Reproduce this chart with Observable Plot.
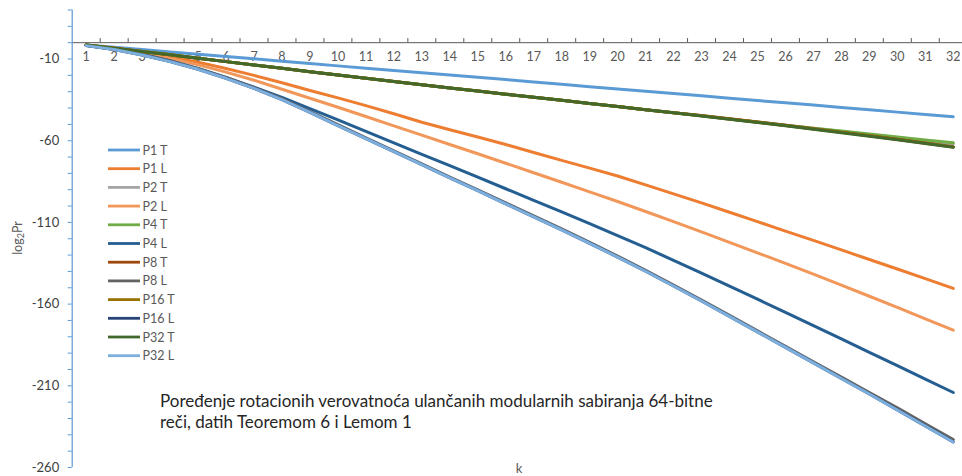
<!DOCTYPE html>
<html>
<head>
<meta charset="utf-8">
<script src="https://cdn.jsdelivr.net/npm/d3@7"></script>
<script src="https://cdn.jsdelivr.net/npm/@observablehq/plot@0.6"></script>
<style>
  html, body { margin: 0; padding: 0; background: #fff; }
  #chart { width: 962px; height: 476px; overflow: hidden; }
</style>
</head>
<body>
<div id="chart"></div>
<script>
// ---- data ----
const k = [1,2,3,4,5,6,7,8,9,10,11,12,13,14,15,16,17,18,19,20,21,22,23,24,25,26,27,28,29,30,31,32];

const seriesNames = ["P1 T","P1 L","P2 T","P2 L","P4 T","P4 L","P8 T","P8 L","P16 T","P16 L","P32 T","P32 L"];

const p1T  = [-1.4,-2.8,-4.2,-5.7,-7.1,-8.5,-9.9,-11.3,-12.7,-14.2,-15.6,-17.0,-18.4,-19.8,-21.2,-22.6,-24.1,-25.5,-26.9,-28.3,-29.7,-31.1,-32.5,-34.0,-35.4,-36.8,-38.2,-39.6,-41.0,-42.5,-43.9,-45.3];
const p1L  = [-1.5,-3.3,-5.5,-8.4,-12.0,-15.8,-20.0,-24.5,-29.3,-33.8,-38.5,-43.5,-48.7,-53.3,-57.7,-62.3,-67.2,-72.0,-76.8,-81.6,-87.0,-92.5,-98.0,-103.8,-109.5,-115.3,-121.0,-126.8,-132.7,-138.5,-144.4,-150.4];
const p2T  = [-1.4,-3.4,-5.4,-7.4,-9.5,-11.6,-13.6,-15.7,-17.8,-19.8,-21.8,-23.8,-25.8,-27.7,-29.6,-31.5,-33.4,-35.3,-37.2,-39.1,-41.0,-42.9,-44.8,-46.7,-48.6,-50.5,-52.4,-54.3,-56.2,-58.1,-60.0,-61.9];
const p2L  = [-1.5,-3.5,-6.2,-9.6,-13.6,-18.0,-23.0,-28.5,-34.0,-39.5,-45.2,-50.9,-56.6,-62.3,-68.0,-73.8,-79.6,-85.4,-91.3,-97.2,-103.3,-109.5,-115.8,-122.2,-128.6,-135.1,-141.7,-148.4,-155.2,-162.0,-169.0,-175.9];
const p4T  = [-1.4,-3.4,-5.4,-7.4,-9.5,-11.6,-13.6,-15.7,-17.8,-19.8,-21.8,-23.8,-25.8,-27.7,-29.6,-31.5,-33.4,-35.3,-37.2,-39.1,-41.0,-42.9,-44.8,-46.7,-48.6,-50.5,-52.3,-54.1,-55.9,-57.7,-59.5,-61.3];
const p4L  = [-1.6,-3.8,-7.0,-11.0,-15.7,-21.2,-27.2,-33.5,-40.3,-47.3,-54.3,-61.3,-68.3,-75.3,-82.3,-89.4,-96.5,-103.6,-110.8,-118.1,-125.5,-133.2,-141.0,-149.0,-157.0,-165.0,-173.2,-181.3,-189.5,-197.7,-205.9,-214.1];
const p8T  = [-1.4,-3.4,-5.4,-7.4,-9.5,-11.6,-13.6,-15.7,-17.8,-19.8,-21.8,-23.8,-25.8,-27.7,-29.6,-31.5,-33.4,-35.3,-37.2,-39.1,-41.0,-42.9,-44.6,-46.6,-48.6,-50.6,-52.7,-54.8,-56.9,-59.1,-61.4,-63.7];
const p8L  = [-1.7,-4.0,-7.2,-11.2,-15.9,-21.3,-27.5,-34.3,-42.2,-50.2,-58.2,-66.2,-74.2,-82.2,-90.1,-98.1,-106.0,-114.0,-122.2,-130.6,-139.3,-148.3,-157.5,-166.9,-176.4,-185.8,-195.3,-204.7,-214.1,-223.5,-233.2,-242.9];
const p16T = [-1.4,-3.4,-5.4,-7.4,-9.5,-11.6,-13.6,-15.7,-17.8,-19.8,-21.8,-23.8,-25.8,-27.7,-29.6,-31.5,-33.4,-35.3,-37.2,-39.1,-41.0,-42.9,-44.7,-46.7,-48.7,-50.7,-52.8,-54.9,-57.0,-59.2,-61.5,-63.8];
const p16L = [-1.8,-4.2,-7.5,-11.6,-16.3,-21.8,-28.0,-34.8,-42.7,-50.7,-58.7,-66.7,-74.7,-82.7,-90.6,-98.6,-106.6,-114.6,-122.8,-131.2,-139.9,-148.9,-158.1,-167.5,-177.0,-186.5,-196.0,-205.5,-215.0,-224.7,-234.5,-244.3];
const p32T = [-1.4,-3.4,-5.4,-7.4,-9.5,-11.6,-13.6,-15.7,-17.8,-19.8,-21.8,-23.8,-25.8,-27.7,-29.6,-31.5,-33.4,-35.3,-37.2,-39.1,-41.0,-42.9,-44.9,-46.9,-48.9,-50.9,-53.0,-55.1,-57.2,-59.4,-61.7,-64.0];
const p32L = [-1.8,-4.2,-7.5,-11.6,-16.3,-21.8,-28.0,-34.8,-42.7,-50.7,-58.7,-66.7,-74.7,-82.7,-90.6,-98.6,-106.6,-114.6,-122.8,-131.2,-139.9,-148.9,-158.1,-167.5,-177.0,-186.5,-196.0,-205.5,-215.0,-224.8,-234.6,-244.4];

const seriesValues = [p1T, p1L, p2T, p2L, p4T, p4L, p8T, p8L, p16T, p16L, p32T, p32L];

const yTickValues = [-260,-250,-240,-230,-220,-210,-200,-190,-180,-170,-160,-150,-140,-130,-120,-110,-100,-90,-80,-70,-60,-50,-40,-30,-20,-10,0,10,20];
const yLabeled = [-260,-210,-160,-110,-60,-10];

const xTitle = "k";
const noteLines = ["Poređenje rotacionih verovatnoća ulančanih modularnih sabiranja 64-bitne",
                   "reči, datih Teoremom 6 i Lemom 1"];

// ---- styles ----
const colors = ["#5B9BD5","#ED7D31","#A5A5A5","#F1975A","#70AD47","#255E91","#9E480E","#636363","#997300","#264478","#43682B","#7CAFDD"];
const FONT = "Lato, 'Open Sans', sans-serif";

// long table
const rows = [];
seriesNames.forEach((s, i) => k.forEach((kk, j) => rows.push({k: kk, v: seriesValues[i][j], s})));

const xBetween = k.slice(0, -1).map(d => d + 0.5);

const chart = Plot.plot({
  width: 962,
  height: 476,
  marginLeft: 71.7,
  marginRight: 0,
  marginTop: 9.5,
  marginBottom: 9,
  x: {domain: [0.5, 32.33], axis: null},
  y: {domain: [-260, 20], axis: null},
  color: {domain: seriesNames, range: colors},
  style: {fontFamily: FONT, background: "#fff", overflow: "visible"},
  marks: [
    Plot.ruleY([0], {stroke: "#595959", strokeWidth: 1}),
    Plot.ruleX(xBetween, {x: d => d, y1: 0, y2: 2.5, stroke: "#595959"}),
    Plot.text(k, {x: d => d, y: 0, dy: 14, text: d => String(d), fill: "#595959", fontSize: 12.5}),
    Plot.ruleX([0.5], {stroke: "#5B9BD5", strokeWidth: 1.2}),
    Plot.axisY({ticks: yTickValues, tickSize: 4, tickPadding: 9, stroke: "#5B9BD5",
                fill: "#404040", fontSize: 13, label: null,
                tickFormat: d => yLabeled.includes(d) ? String(d) : ""}),
    Plot.line(rows, {x: "k", y: "v", z: "s", stroke: "s", strokeWidth: 3,
                     strokeLinejoin: "round", strokeLinecap: "round"})
  ]
});

document.getElementById("chart").appendChild(chart);

// ---- extra texts: y title, x title, legend, note ----
const svg = d3.select(chart);

const yt = svg.append("text")
  .attr("transform", "translate(18.5,238) rotate(-90)")
  .attr("text-anchor", "middle")
  .attr("dominant-baseline", "middle")
  .attr("fill", "#595959")
  .style("font-family", FONT)
  .style("font-size", "12.5px");
yt.append("tspan").text("log");
yt.append("tspan").attr("font-size", "9px").attr("dy", "3").text("2");
yt.append("tspan").attr("dy", "-3").text("Pr");

svg.append("text")
  .attr("x", 519).attr("y", 473)
  .attr("text-anchor", "middle")
  .attr("fill", "#595959")
  .style("font-family", FONT).style("font-size", "13px")
  .text(xTitle);

const leg = svg.append("g");
seriesNames.forEach((s, i) => {
  const y = 150 + i * 18.7;
  leg.append("line").attr("x1", 108).attr("x2", 140).attr("y1", y).attr("y2", y)
     .attr("stroke", colors[i]).attr("stroke-width", 2.8);
  leg.append("text").attr("x", 142.5).attr("y", y).attr("dy", "0.36em")
     .attr("text-anchor", "start")
     .attr("fill", "#595959").style("font-family", FONT).style("font-size", "12.5px")
     .text(s);
});

noteLines.forEach((t, i) => {
  svg.append("text").attr("x", 160).attr("y", 406.5 + i * 21)
     .attr("text-anchor", "start")
     .attr("fill", "#262626").style("font-family", FONT).style("font-size", "17px")
     .text(t);
});
</script>
</body>
</html>
